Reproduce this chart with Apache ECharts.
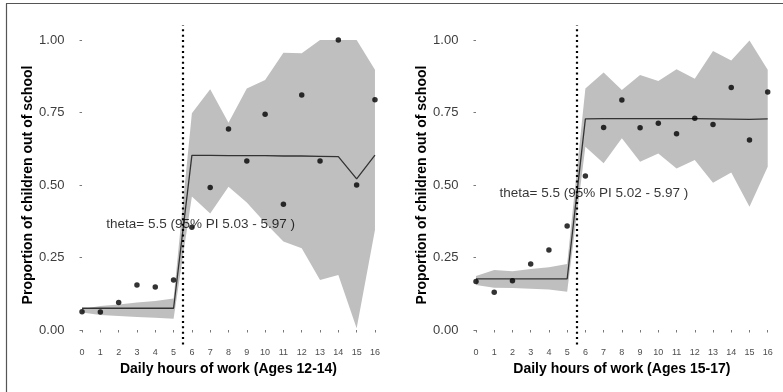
<!DOCTYPE html>
<html><head><meta charset="utf-8">
<script src="https://cdn.jsdelivr.net/npm/echarts@6/dist/echarts.min.js"></script>
<style>html,body{margin:0;padding:0;background:#fff;}#c{width:783px;height:392px;}</style>
</head><body><div id="c"></div>
<script>
// ---- data ----
const hours = [0,1,2,3,4,5,6,7,8,9,10,11,12,13,14,15,16];
const yTicks = [0, 0.25, 0.5, 0.75, 1];
const theta = 5.5;

// Ages 12-14
const obsA   = [0.063,0.062,0.095,0.155,0.148,0.172,0.354,0.491,0.693,0.583,0.744,0.434,0.810,0.583,1.000,0.500,0.794];
const fitA   = [0.075,0.075,0.075,0.075,0.075,0.075,0.602,0.602,0.601,0.601,0.601,0.600,0.600,0.599,0.598,0.521,0.603];
const upperA = [0.072,0.083,0.088,0.095,0.100,0.109,0.747,0.830,0.715,0.833,0.862,0.956,0.954,1.000,1.000,1.000,0.897];
const lowerA = [0.060,0.052,0.048,0.045,0.042,0.039,0.460,0.402,0.494,0.440,0.370,0.305,0.282,0.172,0.190,0.006,0.345];
const labelA = "theta= 5.5 (95% PI 5.03 - 5.97 )";
const labelPosA = [6.48, 0.365];
const titleA = "Daily hours of work (Ages 12-14)";

// Ages 15-17
const obsB   = [0.167,0.130,0.170,0.228,0.276,0.359,0.531,0.698,0.793,0.697,0.713,0.677,0.730,0.709,0.836,0.655,0.821];
const fitB   = [0.176,0.176,0.176,0.176,0.176,0.176,0.728,0.729,0.729,0.729,0.729,0.729,0.729,0.728,0.727,0.726,0.728];
const upperB = [0.186,0.207,0.203,0.210,0.216,0.228,0.833,0.888,0.828,0.879,0.859,0.899,0.866,0.962,0.929,0.998,0.897];
const lowerB = [0.155,0.146,0.145,0.142,0.140,0.132,0.632,0.575,0.661,0.580,0.609,0.557,0.586,0.508,0.543,0.425,0.563];
const labelB = "theta= 5.5 (95% PI 5.02 - 5.97 )";
const labelPosB = [6.47, 0.473];
const titleB = "Daily hours of work (Ages 15-17)";

const yTitle = "Proportion of children out of school";

// ---- chart ----
const FONT = "'Liberation Sans', Arial, sans-serif";
const zip = (xs, ys) => xs.map((x, i) => [x, ys[i]]);

function axes(i, title) {
  const x = {
    type: 'value', gridIndex: i, min: -0.8, max: 16.8,
    splitLine: {show: false}, axisLine: {show: false},
    axisTick: {show: true, length: 2.5, customValues: hours, lineStyle: {color: '#555', width: 0.8}},
    axisLabel: {customValues: hours, fontSize: 9, color: '#4d4d4d', margin: 4, fontFamily: FONT},
    name: title, nameLocation: 'middle', nameGap: 11,
    nameTextStyle: {fontSize: 14, fontWeight: 'bold', color: '#000', fontFamily: FONT}
  };
  const y = {
    type: 'value', gridIndex: i, min: -0.05, max: 1.05,
    splitLine: {show: false}, axisLine: {show: false},
    axisTick: {show: true, length: 2.5, customValues: yTicks, lineStyle: {color: '#555', width: 0.8}},
    axisLabel: {customValues: yTicks, fontSize: 13, color: '#3d3d3d', margin: 3, fontFamily: FONT,
      formatter: v => v.toFixed(2)},
    name: yTitle, nameLocation: 'middle', nameGap: 27, nameRotate: 90,
    nameTextStyle: {fontSize: 14, fontWeight: 'bold', color: '#000', fontFamily: FONT}
  };
  return [x, y];
}

function panelSeries(i, obs, fit, lo, hi, label, labelPos) {
  return [
    {type: 'custom', xAxisIndex: i, yAxisIndex: i, data: [[hours[0], lo[0]]], silent: true, z: 1,
     renderItem: (params, api) => {
       const pts = [];
       for (let k = 0; k < hours.length; k++) pts.push(api.coord([hours[k], hi[k]]));
       for (let k = hours.length - 1; k >= 0; k--) pts.push(api.coord([hours[k], lo[k]]));
       return {type: 'polygon', shape: {points: pts}, style: {fill: '#bfbfbf', stroke: null}};
     }},
    {type: 'line', xAxisIndex: i, yAxisIndex: i, data: zip(hours, fit), symbol: 'none',
     lineStyle: {color: '#333', width: 1.3}, silent: true, z: 3,
     markLine: {silent: true, symbol: 'none', label: {show: false},
       lineStyle: {color: '#000', width: 2.2, type: [2, 3.4]},
       data: [{xAxis: theta}]}},
    {type: 'scatter', xAxisIndex: i, yAxisIndex: i, data: zip(hours, obs), symbolSize: 5.5,
     itemStyle: {color: '#000'}, silent: true, z: 4},
    {type: 'scatter', xAxisIndex: i, yAxisIndex: i, data: [labelPos], symbolSize: 0, silent: true, z: 5,
     label: {show: true, position: 'inside', formatter: label, fontSize: 13.5, color: '#000', fontFamily: FONT}}
  ];
}

const [xa, ya] = axes(0, titleA);
const [xb, yb] = axes(1, titleB);

const chart = echarts.init(document.getElementById('c'), null, {renderer: 'canvas'});
chart.setOption({
  animation: false,
  backgroundColor: '#fff',
  grid: [
    {left: 67.4, top: 25.5, width: 322.2, height: 319},
    {left: 461.4, top: 25.5, width: 320.9, height: 319}
  ],
  xAxis: [xa, xb],
  yAxis: [ya, yb],
  series: [
    ...panelSeries(0, obsA, fitA, lowerA, upperA, labelA, labelPosA),
    ...panelSeries(1, obsB, fitB, lowerB, upperB, labelB, labelPosB)
  ],
  graphic: [
    {type: 'line', shape: {x1: 6.5, y1: 3.5, x2: 6.5, y2: 392}, style: {stroke: '#555', lineWidth: 1.2}, silent: true},
    {type: 'line', shape: {x1: 6, y1: 3.5, x2: 783, y2: 3.5}, style: {stroke: '#555', lineWidth: 1.2}, silent: true}
  ]
});
</script>
</body></html>
